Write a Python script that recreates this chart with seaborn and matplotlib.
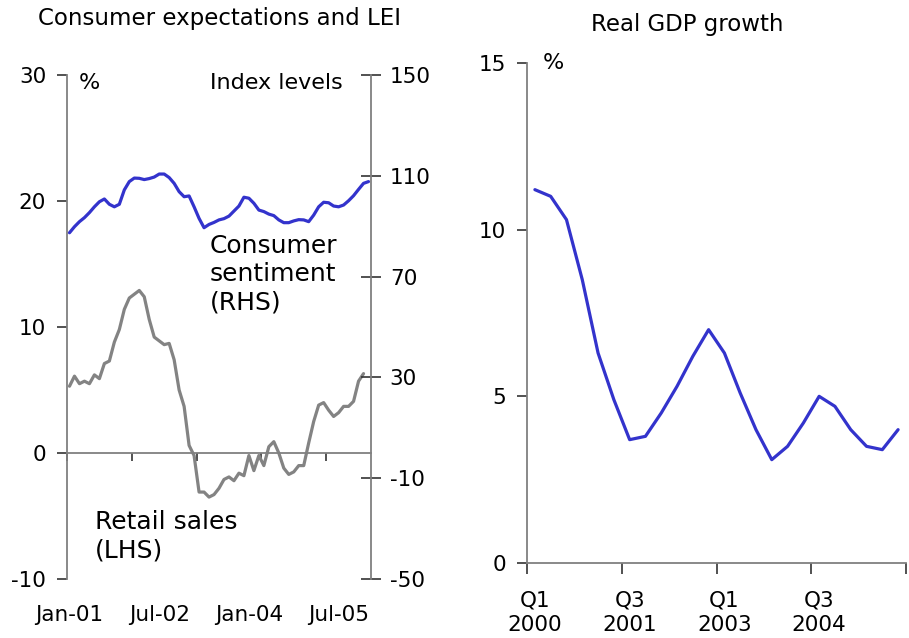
import matplotlib
matplotlib.use("Agg")
import seaborn as sns
import matplotlib.pyplot as plt
import pandas as pd

# monthly data, Jan-01 .. Jan-06
months = pd.date_range("2001-01-01", "2006-01-01", freq="MS")
sentiment = [87.4, 89.8, 91.8, 93.4, 95.4, 97.7, 99.7, 100.8, 98.7, 97.7,
             98.7, 104.4, 107.7, 109.1, 109.0, 108.5, 108.9, 109.5, 110.7, 110.7,
             109.3, 107.0, 103.7, 101.7, 102.0, 97.7, 93.1, 89.4, 90.7, 91.5,
             92.5, 93.0, 94.0, 96.0, 98.0, 101.5, 101.1, 99.1, 96.4, 95.8,
             94.8, 94.2, 92.5, 91.4, 91.4, 92.1, 92.6, 92.5, 91.8, 94.4,
             97.7, 99.5, 99.3, 98.0, 97.7, 98.4, 100.1, 102.1, 104.6, 107.0,
             107.7]
retail = [5.3, 6.1, 5.5, 5.7, 5.5, 6.2, 5.9, 7.1, 7.3, 8.8,
          9.8, 11.4, 12.3, 12.6, 12.9, 12.4, 10.6, 9.2, 8.9, 8.6,
          8.7, 7.4, 5.0, 3.7, 0.6, -0.2, -3.1, -3.1, -3.5, -3.3,
          -2.8, -2.1, -1.9, -2.2, -1.6, -1.8, -0.2, -1.4, -0.2, -1.0,
          0.5, 0.9, 0.0, -1.2, -1.7, -1.5, -1.0, -1.0, 0.8, 2.5,
          3.8, 4.0, 3.4, 2.9, 3.2, 3.7, 3.7, 4.1, 5.7, 6.3]
month_labels = ["Jan-01", "Jul-02", "Jan-04", "Jul-05"]

# quarterly data, Q1 2000 .. Q4 2005
quarters = [f"Q{q} {y}" for y in range(2000, 2006) for q in range(1, 5)]
gdp_growth = [11.2, 11.0, 10.3, 8.5, 6.3, 4.9, 3.7, 3.8, 4.5, 5.3,
              6.2, 7.0, 6.3, 5.1, 4.0, 3.1, 3.5, 4.2, 5.0, 4.7,
              4.0, 3.5, 3.4, 4.0]
quarter_labels = ["Q1\n2000", "Q3\n2001", "Q1\n2003", "Q3\n2004"]

sns.set_theme(style="white")
plt.rcParams["font.family"] = ["DejaVu Sans"]
plt.rcParams["axes.unicode_minus"] = False
plt.rcParams["text.color"] = "black"
plt.rcParams["xtick.labelcolor"] = "black"
plt.rcParams["ytick.labelcolor"] = "black"

blue = "#3333CC"
grey = "#838383"
axis_col = "#808080"
tick_fs = 15.5

df_sent = pd.DataFrame({"pos": range(len(sentiment)), "value": sentiment})
df_ret = pd.DataFrame({"pos": range(len(retail)), "value": retail})
df_gdp = pd.DataFrame({"pos": range(len(gdp_growth)), "value": gdp_growth})

fig = plt.figure(figsize=(9.09, 6.38), dpi=100)

# ---- left panel
ax1 = fig.add_axes([67 / 909, 1 - 579 / 638, 304 / 909, 504 / 638])
ax2 = ax1.twinx()

sns.lineplot(data=df_ret, x="pos", y="value", ax=ax1, color=grey, lw=2.3)
sns.lineplot(data=df_sent, x="pos", y="value", ax=ax2, color=blue, lw=2.3)

n_m = len(months)
for a in (ax1, ax2):
    a.set_xlim(-0.5, n_m - 0.5)
    a.set_xlabel("")
    a.set_ylabel("")
    a.patch.set_visible(False)

ax1.set_ylim(-10, 30)
ax1.set_yticks([-10, 0, 10, 20, 30])
ax2.set_ylim(-50, 150)
ax2.set_yticks([-50, -10, 30, 70, 110, 150])

ax1.spines["top"].set_visible(False)
ax1.spines["right"].set_visible(False)
ax1.spines["bottom"].set_position(("data", 0))
ax1.spines["left"].set_color(axis_col)
ax1.spines["bottom"].set_color(axis_col)
ax1.spines["left"].set_linewidth(1.3)
ax1.spines["bottom"].set_linewidth(1.3)
for s in ("top", "left", "bottom"):
    ax2.spines[s].set_visible(False)
ax2.spines["right"].set_color(axis_col)
ax2.spines["right"].set_linewidth(1.3)

ax1.set_xticks([-0.5, 12.5, 25.5, 38.5, 51.5])
ax1.set_xticklabels([])
ax1.tick_params(axis="x", direction="out", length=6, width=1.2, color="#333333", bottom=True)
ax1.tick_params(axis="y", direction="out", length=7, width=1.2, color="#333333",
                left=True, labelsize=tick_fs, pad=8)
ax2.tick_params(axis="y", direction="inout", length=15, width=1.2, color="#333333",
                right=True, labelsize=tick_fs, pad=6)

xt = ax1.get_xaxis_transform()
for i, lab in zip(range(0, n_m, 18), month_labels):
    ax1.text(i, -0.071, lab, transform=xt, ha="center", va="center", fontsize=tick_fs)

ax1.text(0.039, 0.984, "%", transform=ax1.transAxes, ha="left", va="center", fontsize=16)
ax1.text(0.908, 0.984, "Index levels", transform=ax1.transAxes, ha="right", va="center", fontsize=16)
ax1.text(0.47, 0.605, "Consumer\nsentiment\n(RHS)", transform=ax1.transAxes,
         ha="left", va="center", fontsize=18, linespacing=1.22)
ax1.text(0.092, 0.085, "Retail sales\n(LHS)", transform=ax1.transAxes,
         ha="left", va="center", fontsize=18, linespacing=1.22)

fig.text(220 / 909, 1 - 18 / 638, "Consumer expectations and LEI", ha="center", va="center", fontsize=16.5)

# ---- right panel
ax3 = fig.add_axes([527 / 909, 1 - 563 / 638, 379 / 909, 500 / 638])
sns.lineplot(data=df_gdp, x="pos", y="value", ax=ax3, color=blue, lw=2.3)
ax3.set_xlim(-0.5, len(quarters) - 0.5)
ax3.set_ylim(0, 15)
ax3.set_yticks([0, 5, 10, 15])
ax3.set_xticks([-0.5, 5.5, 11.5, 17.5, 23.5])
ax3.set_xticklabels([])
ax3.set_xlabel("")
ax3.set_ylabel("")
ax3.spines["top"].set_visible(False)
ax3.spines["right"].set_visible(False)
for s in ("left", "bottom"):
    ax3.spines[s].set_color(axis_col)
    ax3.spines[s].set_linewidth(1.3)
ax3.tick_params(axis="x", direction="out", length=8, width=1.2, color="#333333", bottom=True)
ax3.tick_params(axis="y", direction="out", length=7, width=1.2, color="#333333",
                left=True, labelsize=tick_fs, pad=8)
xt3 = ax3.get_xaxis_transform()
for i, lab in zip(range(0, len(quarters), 6), quarter_labels):
    ax3.text(i, -0.099, lab, transform=xt3, ha="center", va="center",
             fontsize=tick_fs, linespacing=1.3)
ax3.text(0.042, 1.0, "%", transform=ax3.transAxes, ha="left", va="center", fontsize=16)

fig.text(687 / 909, 1 - 25 / 638, "Real GDP growth", ha="center", va="center", fontsize=16.5)

fig.savefig("out.png", dpi=100)
